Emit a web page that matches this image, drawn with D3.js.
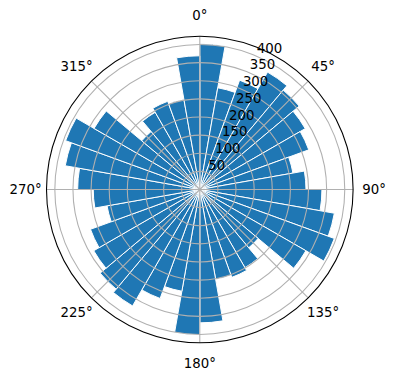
<!DOCTYPE html>
<html>
<head>
<meta charset="utf-8">
<script src="https://cdn.jsdelivr.net/npm/d3@7"></script>
<style>
  html, body { margin: 0; padding: 0; background: #fff; }
  svg { display: block; }
  text { font-family: "DejaVu Sans", sans-serif; font-size: 13.33px; fill: #000; }
</style>
</head>
<body>
<svg id="chart" width="396" height="380"></svg>
<script>
// Data: bar start direction (degrees, clockwise from north) and bar lengths
const directions = [0, 10, 20, 30, 40, 50, 60, 70, 80, 90, 100, 110, 120, 130, 140, 150, 160, 170,
                    180, 190, 200, 210, 220, 230, 240, 250, 260, 270, 280, 290, 300, 310, 320, 330, 340, 350];
const counts = [402, 285, 321, 374, 358, 336, 320, 261, 293, 337, 377, 395, 338, 210, 249, 258, 252, 368,
                401, 285, 320, 371, 359, 338, 321, 260, 294, 337, 377, 394, 337, 209, 246, 259, 252, 369];
const binWidth = 10;
const rTicks = [50, 100, 150, 200, 250, 300, 350, 400];
const thetaTicks = [0, 45, 90, 135, 180, 225, 270, 315];
const rMax = 423;

const svg = d3.select("#chart");
const cx = 199.8, cy = 189.5, R = 153.3;
const g = svg.append("g").attr("transform", `translate(${cx},${cy})`);

const r = d3.scaleLinear().domain([0, rMax]).range([0, R]);
const ang = d3.scaleLinear().domain([0, 360]).range([0, 2 * Math.PI]);

// Bars
const arc = d3.arc()
  .innerRadius(0)
  .outerRadius(d => r(d.v))
  .startAngle(d => ang(d.dir))
  .endAngle(d => ang(d.dir + binWidth));

const bars = directions.map((dir, i) => ({ dir, v: counts[i] }));
g.append("g").selectAll("path").data(bars).join("path")
  .attr("d", arc)
  .attr("fill", "#1f77b4")
  .attr("stroke", "#ffffff")
  .attr("stroke-width", 1)
  .attr("stroke-linejoin", "miter");

// Grid circles
const grid = g.append("g").attr("fill", "none").attr("stroke", "#b0b0b0").attr("stroke-width", 1.07);
grid.selectAll("circle").data(rTicks).join("circle")
  .attr("r", d => r(d));
// Radial grid lines
grid.selectAll("line").data(thetaTicks).join("line")
  .attr("x1", 0).attr("y1", 0)
  .attr("x2", d => R * Math.sin(ang(d)))
  .attr("y2", d => -R * Math.cos(ang(d)));

// Outer spine
g.append("circle").attr("r", R).attr("fill", "none").attr("stroke", "#000").attr("stroke-width", 1.07);

// Theta labels
const labR = R + 21;
g.append("g").selectAll("text").data(thetaTicks).join("text")
  .attr("x", d => labR * Math.sin(ang(d)))
  .attr("y", d => -labR * Math.cos(ang(d)))
  .attr("text-anchor", "middle")
  .attr("dominant-baseline", "central")
  .text(d => d + "°");

// Radial labels at 22.5°
const la = ang(22.5);
g.append("g").selectAll("text").data(rTicks).join("text")
  .attr("x", d => r(d) * Math.sin(la) + 1.5)
  .attr("y", d => -r(d) * Math.cos(la) - 3)
  .attr("text-anchor", "start")
  .text(d => d);
</script>
</body>
</html>
